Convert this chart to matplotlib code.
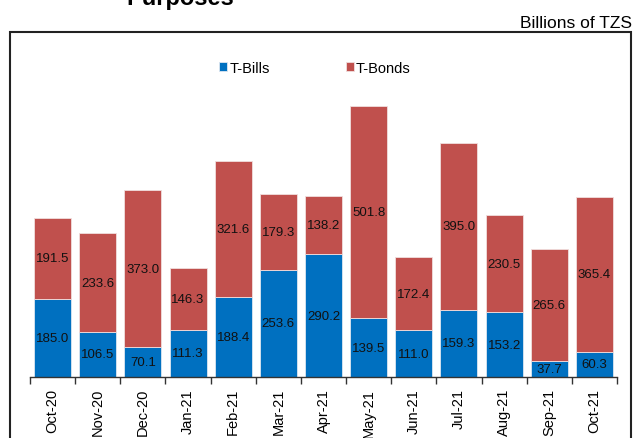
import matplotlib
matplotlib.use('Agg')
import matplotlib.pyplot as plt
from matplotlib.patches import Rectangle
import numpy as np

plt.rcParams['font.family'] = ['Liberation Sans', 'DejaVu Sans']

# Monthly amounts, billions of TZS
months = ['Oct-20', 'Nov-20', 'Dec-20', 'Jan-21', 'Feb-21', 'Mar-21', 'Apr-21',
          'May-21', 'Jun-21', 'Jul-21', 'Aug-21', 'Sep-21', 'Oct-21']
t_bills = [185.0, 106.5, 70.1, 111.3, 188.4, 253.6, 290.2,
           139.5, 111.0, 159.3, 153.2, 37.7, 60.3]
t_bonds = [191.5, 233.6, 373.0, 146.3, 321.6, 179.3, 138.2,
           501.8, 172.4, 395.0, 230.5, 265.6, 365.4]

BLUE = '#0070C0'
RED = '#C0504D'

W, H = 633, 439
fig = plt.figure(figsize=(W / 100, H / 100), dpi=100)

# plot area in pixel units
left, right, base = 30, 617, 378
ymax = 700
px_per_unit = 0.4226
ax = fig.add_axes([left / W, (H - base) / H, (right - left) / W,
                   ymax * px_per_unit / H])

x = np.arange(len(months))
b1 = ax.bar(x, t_bills, width=0.82, color=BLUE, edgecolor='#dde6f0',
            linewidth=0.6, label='T-Bills')
b2 = ax.bar(x, t_bonds, width=0.82, bottom=t_bills, color=RED,
            edgecolor='#f0dede', linewidth=0.6, label='T-Bonds')
ax.bar_label(b1, fmt='%.1f', label_type='center', fontsize=9.5, color='#111111')
ax.bar_label(b2, fmt='%.1f', label_type='center', fontsize=9.5, color='#111111')

ax.set_xlim(-0.5, len(months) - 0.5)
ax.set_ylim(0, ymax)
for s in ['top', 'right', 'left']:
    ax.spines[s].set_visible(False)
ax.spines['bottom'].set_color('#333333')
ax.spines['bottom'].set_linewidth(1.0)
ax.set_yticks([])
ax.set_xticks(x)
ax.set_xticklabels(months, rotation=90, fontsize=10.5)
ax.tick_params(axis='x', which='major', length=0, pad=8)
ax.set_xticks(np.arange(-0.5, len(months)), minor=True)
ax.tick_params(axis='x', which='minor', length=5, width=1, color='#333333')

leg = fig.legend(handles=[b1, b2], loc='center', bbox_to_anchor=(315 / W, 1 - 69 / H),
                 ncol=2, frameon=False, fontsize=10.5, handlelength=0.55,
                 handleheight=0.6, handletextpad=0.15, columnspacing=5.2)

# outer frame around the chart
fig.patches.append(Rectangle((10 / W, -0.05), (631 - 10) / W, 0.05 + 1 - 33 / H,
                             transform=fig.transFigure, fill=False,
                             edgecolor='#222222', linewidth=1.5))

fig.text(180 / W, 1 - 5 / H, 'Purposes', ha='center', va='baseline',
         fontsize=17, fontweight='bold')
fig.text(632 / W, 1 - 24 / H, 'Billions of TZS', ha='right', va='center',
         fontsize=12.5)

fig.savefig('out.png', dpi=100)
